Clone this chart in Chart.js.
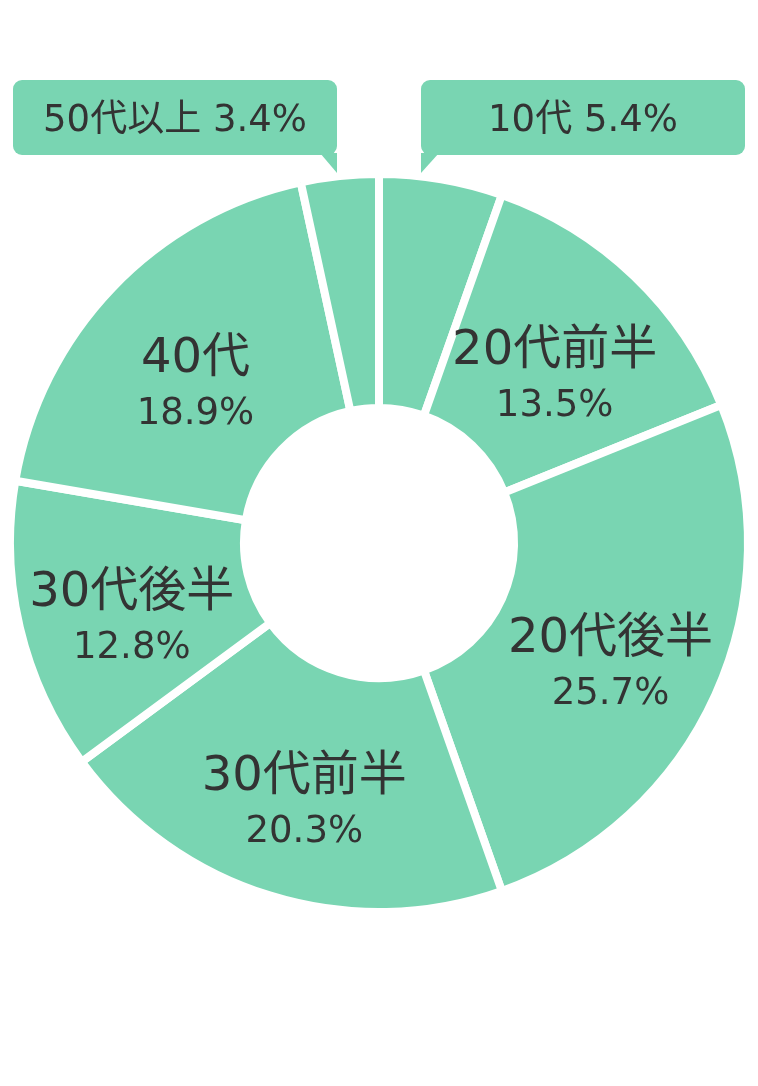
<!DOCTYPE html>
<html lang="ja">
<head>
<meta charset="utf-8">
<title>年代別構成比</title>
<script src="https://cdn.jsdelivr.net/npm/chart.js@4.4.1/dist/chart.umd.min.js"></script>
<style>
  html, body { margin: 0; padding: 0; background: #fff; }
  #wrap { width: 758px; height: 1086px; }
</style>
</head>
<body>
<div id="wrap"><canvas id="chart" width="758" height="1086"></canvas></div>
<script>
// data
const ageGroups = ['10代', '20代前半', '20代後半', '30代前半', '30代後半', '40代', '50代以上'];
const shares = [5.4, 13.5, 25.7, 20.3, 12.8, 18.9, 3.4];
// slices too thin to hold a label get a speech-bubble above the ring
const calloutGroups = ['10代', '50代以上'];

const GREEN = '#79d5b2';
const TEXT = '#333333';
const FONT = '"DejaVu Sans", "Noto Sans CJK JP", sans-serif';

const fmt = v => v.toFixed(1) + '%';

function roundRect(ctx, x, y, w, h, r) {
  ctx.beginPath();
  ctx.moveTo(x + r, y);
  ctx.lineTo(x + w - r, y);
  ctx.arcTo(x + w, y, x + w, y + r, r);
  ctx.lineTo(x + w, y + h - r);
  ctx.arcTo(x + w, y + h, x + w - r, y + h, r);
  ctx.lineTo(x + r, y + h);
  ctx.arcTo(x, y + h, x, y + h - r, r);
  ctx.lineTo(x, y + r);
  ctx.arcTo(x, y, x + r, y, r);
  ctx.closePath();
}

const sliceLabels = {
  id: 'sliceLabels',
  afterDatasetsDraw(chart) {
    const ctx = chart.ctx;
    const meta = chart.getDatasetMeta(0);
    const labels = chart.data.labels;
    const values = chart.data.datasets[0].data;

    ctx.save();
    ctx.textAlign = 'center';
    ctx.textBaseline = 'middle';
    ctx.fillStyle = TEXT;

    meta.data.forEach((arc, i) => {
      const p = arc.getProps(['x', 'y', 'startAngle', 'endAngle', 'innerRadius', 'outerRadius'], true);
      const mid = (p.startAngle + p.endAngle) / 2;
      const outer = p.outerRadius - 4; // visible edge after the white border

      if (calloutGroups.includes(labels[i])) {
        // bubble above the ring, pointing down at the slice
        const right = Math.cos(mid) > 0;
        const w = 324, h = 75;
        const bottom = p.y - outer - 23;
        const top = bottom - h;
        const bx = right ? p.x + 42 : p.x - 42 - w;
        ctx.fillStyle = GREEN;
        roundRect(ctx, bx, top, w, h, 9);
        ctx.fill();
        ctx.beginPath();
        if (right) {
          ctx.moveTo(bx, bottom - 2);
          ctx.lineTo(bx + 18, bottom - 2);
          ctx.lineTo(bx, bottom + 18);
        } else {
          ctx.moveTo(bx + w, bottom - 2);
          ctx.lineTo(bx + w - 17, bottom - 2);
          ctx.lineTo(bx + w, bottom + 18);
        }
        ctx.closePath();
        ctx.fill();
        ctx.fillStyle = TEXT;
        ctx.font = '37px ' + FONT;
        ctx.fillText(labels[i] + ' ' + fmt(values[i]), bx + w / 2, top + h / 2 + 4);
        return;
      }

      const r = (p.innerRadius + outer) / 2 + 4;
      const lx = p.x + Math.cos(mid) * r;
      const ly = p.y + Math.sin(mid) * r;
      ctx.font = '48px ' + FONT;
      ctx.fillText(labels[i], lx, ly - 8);
      ctx.font = '37px ' + FONT;
      ctx.fillText(fmt(values[i]), lx, ly + 47);
    });
    ctx.restore();
  }
};

new Chart(document.getElementById('chart'), {
  type: 'doughnut',
  data: {
    labels: ageGroups,
    datasets: [{
      data: shares,
      backgroundColor: GREEN,
      borderColor: '#ffffff',
      borderWidth: 8,
      borderAlign: 'center'
    }]
  },
  options: {
    responsive: false,
    animation: false,
    cutout: '36.6%',
    layout: { padding: { left: 6, right: 6, top: 0, bottom: 0 } },
    plugins: {
      legend: { display: false },
      tooltip: { enabled: false }
    }
  },
  plugins: [sliceLabels]
});
</script>
</body>
</html>
